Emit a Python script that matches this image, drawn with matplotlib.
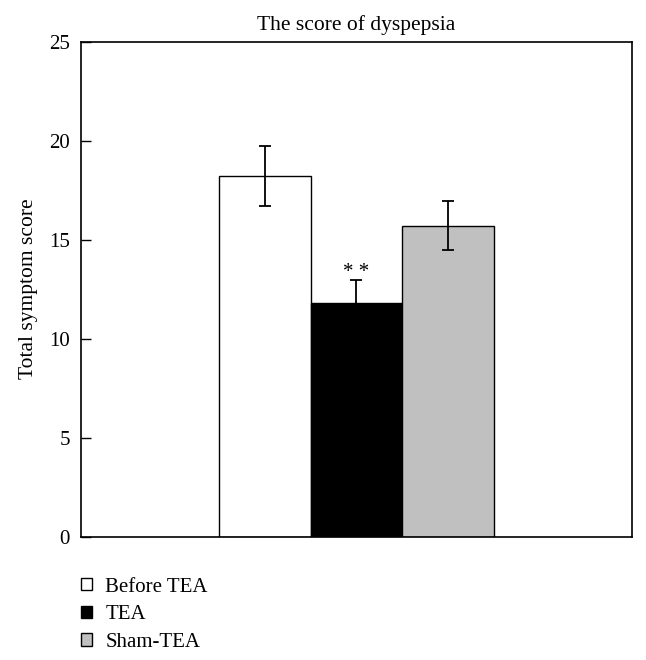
import numpy as np
import matplotlib.pyplot as plt
from matplotlib.patches import Patch

plt.rcParams['font.family'] = ['Liberation Serif', 'DejaVu Serif']

# datos
groups = ['Before TEA', 'TEA', 'Sham-TEA']
scores = [18.2, 11.8, 15.7]
errors = [1.5, 1.17, 1.25]
colors = ['white', 'black', '#c0c0c0']
yticks = [0, 5, 10, 15, 20, 25]

fig = plt.figure(figsize=(6.46, 6.60), dpi=100)
ax = fig.add_axes([0.1254, 0.1868, 0.8529, 0.7503])

x = np.arange(len(groups))
ax.bar(x, scores, width=1.0, color=colors, edgecolor='black', linewidth=1.0, zorder=2)
ax.errorbar(x, scores, yerr=errors, fmt='none', ecolor='black', elinewidth=1.3,
            capsize=4, capthick=1.3, zorder=3)

# marca de significancia sobre TEA
ax.text(x[1], scores[1] + errors[1] - 0.1, '* *', ha='center', va='bottom', fontsize=15)

ax.set_xlim(-2, 4)
ax.set_ylim(0, 25)
ax.set_yticks(yticks)
ax.set_xticks([])
ax.tick_params(axis='y', direction='in', length=7, width=1, labelsize=15, pad=8)
for s in ax.spines.values():
    s.set_linewidth(1.2)

ax.set_title('The score of dyspepsia', fontsize=15.5, pad=8)
ax.set_ylabel('Total symptom score', fontsize=15.5, labelpad=8)

handles = [Patch(facecolor=c, edgecolor='black', linewidth=1) for c in colors]
fig.legend(handles, groups, loc='upper left', bbox_to_anchor=(0.1254, 0.125),
           frameon=False, fontsize=15, handlelength=0.53, handleheight=0.53,
           handletextpad=0.63, labelspacing=0.42, borderaxespad=0, borderpad=0)

fig.savefig('out.png', dpi=100)
